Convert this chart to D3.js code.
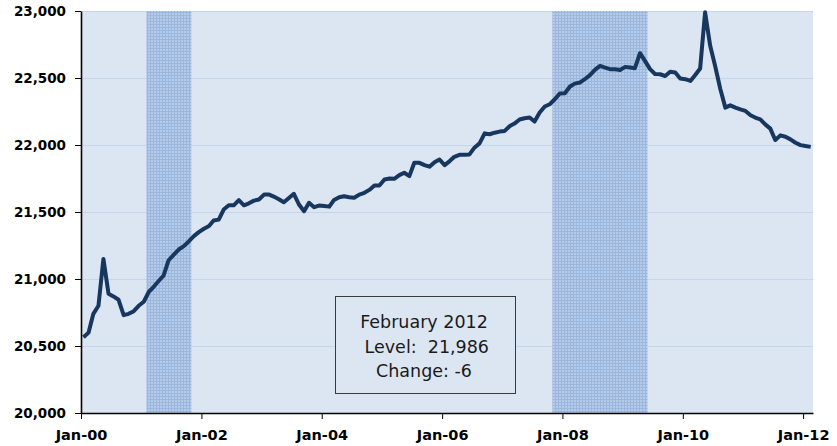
<!DOCTYPE html>
<html>
<head>
<meta charset="utf-8">
<script src="https://cdn.jsdelivr.net/npm/d3@7"></script>
<style>
  body { margin: 0; background: #fff; }
  text { font-family: "DejaVu Sans", Verdana, sans-serif; }
</style>
</head>
<body>
<div id="chart"></div>
<script>

////////////////////////////////////////////////////////
// Data ////////////////////////////////////////////////
////////////////////////////////////////////////////////

// monthly levels, Jan 2000 .. Feb 2012 (thousands)
var startMonth = new Date(2000, 0, 1);
var levels = [
  20565, 20600, 20740, 20800, 21150, 20890, 20870, 20845, 20730, 20740, 20760, 20800,
  20830, 20905, 20940, 20985, 21025, 21140, 21180, 21220, 21245, 21280, 21320, 21350,
  21375, 21395, 21436, 21443, 21518, 21550, 21550, 21588, 21550, 21565, 21585, 21593,
  21630, 21630, 21615, 21595, 21573, 21605, 21636, 21556, 21506, 21569, 21536, 21548,
  21545, 21540, 21590, 21610, 21618, 21610, 21606, 21630, 21643, 21665, 21698, 21698,
  21743, 21750, 21748, 21775, 21793, 21768, 21867, 21867, 21850, 21838, 21872, 21892,
  21850, 21880, 21912, 21927, 21928, 21930, 21980, 22012, 22087, 22080, 22092, 22100,
  22105, 22142, 22160, 22190, 22200, 22205, 22175, 22242, 22287, 22304, 22341, 22384,
  22386, 22436, 22458, 22466, 22491, 22521, 22561, 22590, 22578, 22566, 22566, 22560,
  22583, 22578, 22573, 22685, 22628, 22566, 22530, 22528, 22515, 22546, 22541, 22496,
  22491, 22478, 22521, 22571, 22990, 22740, 22590, 22420, 22279, 22296, 22279, 22266,
  22254, 22222, 22205, 22192, 22154, 22122, 22037, 22072, 22062, 22042, 22017, 21999,
  21992, 21986
];

// shaded periods [start, end]
var recessions = [
  ["2001-02", "2001-11"],
  ["2007-11", "2009-06"]
];

var yTicks = [20000, 20500, 21000, 21500, 22000, 22500, 23000];
var xTickYears = [2000, 2002, 2004, 2006, 2008, 2010, 2012];

var boxLines = ["February 2012", " Level:  21,986", "Change: -6"];

////////////////////////////////////////////////////////
// Options /////////////////////////////////////////////
////////////////////////////////////////////////////////

var cfg = {
  width: 837,
  height: 446,
  left: 81,
  right: 813,
  top: 11,
  bottom: 413,
  plotBg: "#dce6f2",
  grid: "#c4d6ee",
  line: "#17375e"
};

var parseMonth = d3.timeParse("%Y-%m");

var data = levels.map(function(v, i) {
  // points sit in the middle of their month
  return { date: new Date(2000, i, 16), value: v };
});

var x = d3.scaleTime()
  .domain([startMonth, new Date(2012, 2, 1)])
  .range([cfg.left, cfg.right]);

var y = d3.scaleLinear()
  .domain([20000, 23000])
  .range([cfg.bottom, cfg.top]);

////////////////////////////////////////////////////////
// SVG /////////////////////////////////////////////////
////////////////////////////////////////////////////////

var svg = d3.select("#chart").append("svg")
  .attr("width", cfg.width)
  .attr("height", cfg.height);

var defs = svg.append("defs");

var pat = defs.append("pattern")
  .attr("id", "hatch")
  .attr("patternUnits", "userSpaceOnUse")
  .attr("width", 3)
  .attr("height", 3);
pat.append("rect").attr("width", 3).attr("height", 3).attr("fill", "#b6cbe8");
pat.append("path").attr("d", "M0,0.5H3M0.5,0V3")
  .attr("stroke", "#9cb7de").attr("stroke-width", 1);

defs.append("clipPath").attr("id", "plotClip")
  .append("rect")
  .attr("x", cfg.left).attr("y", cfg.top - 3)
  .attr("width", cfg.right - cfg.left).attr("height", cfg.bottom - cfg.top + 3);

// plot background
svg.append("rect")
  .attr("x", cfg.left)
  .attr("y", cfg.top)
  .attr("width", cfg.right - cfg.left)
  .attr("height", cfg.bottom - cfg.top)
  .attr("fill", cfg.plotBg);

// gridlines
svg.append("g").selectAll("line")
  .data(yTicks.slice(1))
  .enter().append("line")
    .attr("x1", cfg.left).attr("x2", cfg.right)
    .attr("y1", function(d) { return y(d) + 0.5; })
    .attr("y2", function(d) { return y(d) + 0.5; })
    .attr("stroke", cfg.grid)
    .attr("stroke-width", 1.2);

// recession bars
svg.append("g").selectAll("rect")
  .data(recessions)
  .enter().append("rect")
    .attr("x", function(d) { return x(parseMonth(d[0])); })
    .attr("width", function(d) { return x(parseMonth(d[1])) - x(parseMonth(d[0])); })
    .attr("y", cfg.top)
    .attr("height", cfg.bottom - cfg.top)
    .attr("fill", "url(#hatch)");

////////////////////////////////////////////////////////
// Line ////////////////////////////////////////////////
////////////////////////////////////////////////////////

var line = d3.line()
  .x(function(d) { return x(d.date); })
  .y(function(d) { return y(d.value); });

svg.append("path")
  .datum(data)
  .attr("clip-path", "url(#plotClip)")
  .attr("d", line)
  .attr("fill", "none")
  .attr("stroke", cfg.line)
  .attr("stroke-width", 4)
  .attr("stroke-linejoin", "round");

////////////////////////////////////////////////////////
// Axes ////////////////////////////////////////////////
////////////////////////////////////////////////////////

var yAxis = svg.append("g")
  .attr("transform", "translate(" + cfg.left + ",0)")
  .call(d3.axisLeft(y)
    .tickValues(yTicks)
    .tickFormat(d3.format(","))
    .tickSize(6)
    .tickSizeOuter(0)
    .tickPadding(9));

var xAxis = svg.append("g")
  .attr("transform", "translate(0," + cfg.bottom + ")")
  .call(d3.axisBottom(x)
    .tickValues(xTickYears.map(function(yr) { return new Date(yr, 0, 1); }))
    .tickFormat(d3.timeFormat("%b-%y"))
    .tickSize(6)
    .tickSizeOuter(0)
    .tickPadding(11));

[yAxis, xAxis].forEach(function(ax) {
  ax.select(".domain").attr("stroke", "#000").attr("stroke-width", 1.6);
  ax.selectAll(".tick line").attr("stroke", "#000").attr("stroke-width", 1);
  ax.selectAll("text")
    .attr("fill", "#000")
    .style("font-family", "'DejaVu Sans', Verdana, sans-serif")
    .style("font-weight", "bold");
});
yAxis.selectAll("text").style("font-size", "13.5px");
xAxis.selectAll("text").style("font-size", "14.5px");

////////////////////////////////////////////////////////
// Annotation box //////////////////////////////////////
////////////////////////////////////////////////////////

var box = svg.append("g");

box.append("rect")
  .attr("x", 335.5)
  .attr("y", 296.5)
  .attr("width", 180)
  .attr("height", 97)
  .attr("fill", cfg.plotBg)
  .attr("stroke", "#3a3a3a")
  .attr("stroke-width", 1);

box.selectAll("text")
  .data(boxLines)
  .enter().append("text")
    .attr("x", 424)
    .attr("y", function(d, i) { return 328 + i * 24.5; })
    .attr("text-anchor", "middle")
    .style("white-space", "pre")
    .style("font-size", "17.5px")
    .attr("fill", "#1a1a1a")
    .text(function(d) { return d; });

</script>
</body>
</html>
